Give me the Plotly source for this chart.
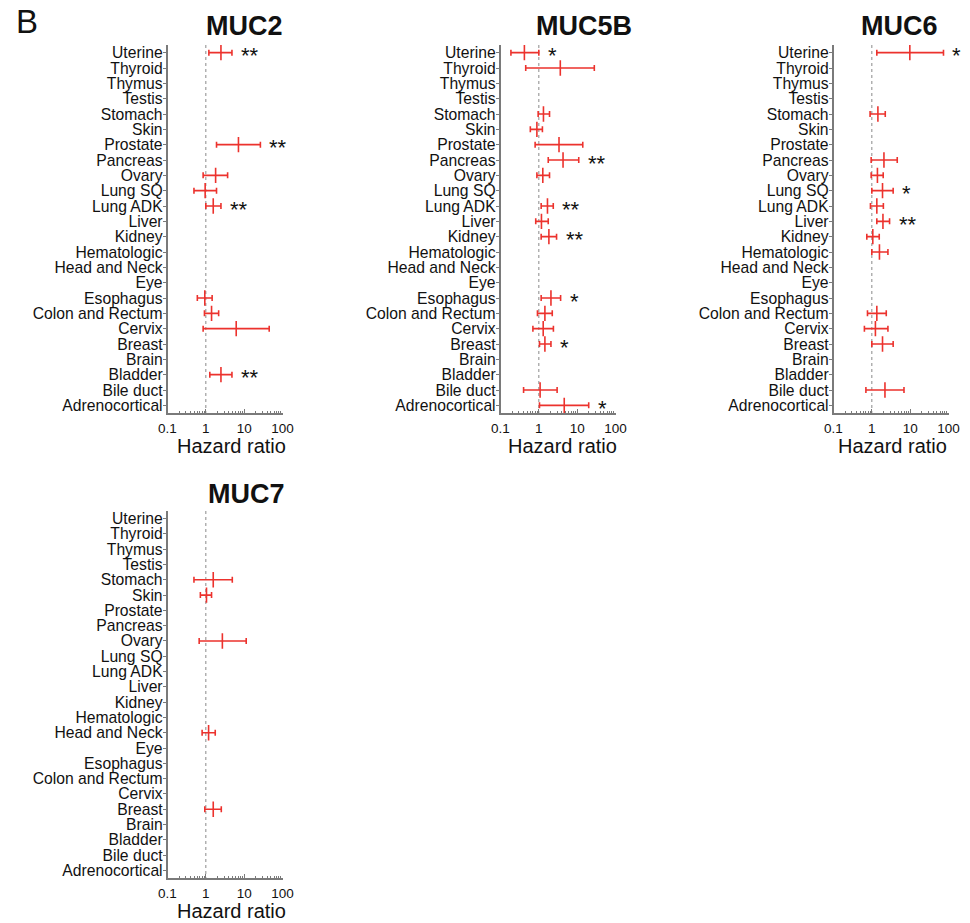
import math
import plotly.graph_objects as go

categories = ["Uterine", "Thyroid", "Thymus", "Testis", "Stomach", "Skin", "Prostate",
              "Pancreas", "Ovary", "Lung SQ", "Lung ADK", "Liver", "Kidney", "Hematologic",
              "Head and Neck", "Eye", "Esophagus", "Colon and Rectum", "Cervix", "Breast",
              "Brain", "Bladder", "Bile duct", "Adrenocortical"]

x_ticks = [0.1, 1, 10, 100]
x_ticklabels = ["0.1", "1", "10", "100"]
x_minor_ticks = [0.2, 0.3, 0.4, 0.5, 0.6, 0.7, 0.8, 0.9,
                 2, 3, 4, 5, 6, 7, 8, 9,
                 20, 30, 40, 50, 60, 70, 80, 90]

# MUC2
muc2_cat = ["Uterine", "Prostate", "Ovary", "Lung SQ", "Lung ADK", "Esophagus",
            "Colon and Rectum", "Cervix", "Bladder"]
muc2_hr = [2.48, 7.1, 1.8, 0.96, 1.56, 0.94, 1.41, 6.2, 2.48]
muc2_lo = [1.2, 1.9, 0.85, 0.49, 1.0, 0.6, 0.92, 0.85, 1.27]
muc2_hi = [4.8, 26.5, 3.7, 1.9, 2.48, 1.46, 2.16, 45, 4.8]
muc2_sig = ["**", "**", "", "", "**", "", "", "", "**"]

# MUC5B
muc5b_cat = ["Uterine", "Thyroid", "Stomach", "Skin", "Prostate", "Pancreas", "Ovary",
             "Lung ADK", "Liver", "Kidney", "Esophagus", "Colon and Rectum", "Cervix",
             "Breast", "Bile duct", "Adrenocortical"]
muc5b_hr = [0.42, 3.63, 1.32, 0.89, 3.36, 4.28, 1.27, 1.68, 1.17, 1.83, 2.07, 1.44, 1.3, 1.44, 1.08, 4.6]
muc5b_lo = [0.187, 0.455, 0.96, 0.6, 0.8, 1.76, 0.89, 1.15, 0.83, 1.15, 1.15, 0.92, 0.7, 1.04, 0.4, 1.04]
muc5b_hi = [1.0, 28, 1.9, 1.24, 14, 11, 1.9, 2.38, 1.76, 2.9, 3.7, 2.24, 2.4, 2.07, 3.0, 20]
muc5b_sig = ["*", "", "", "", "", "**", "", "**", "", "**", "*", "", "", "*", "", "*"]

# MUC6
muc6_cat = ["Uterine", "Stomach", "Pancreas", "Ovary", "Lung SQ", "Lung ADK", "Liver",
            "Kidney", "Hematologic", "Colon and Rectum", "Cervix", "Breast", "Bile duct"]
muc6_hr = [9.8, 1.44, 2.07, 1.4, 1.9, 1.35, 1.95, 1.06, 1.58, 1.35, 1.24, 1.9, 2.2]
muc6_lo = [1.35, 0.9, 0.96, 0.96, 1.0, 0.92, 1.35, 0.74, 1.0, 0.77, 0.64, 1.0, 0.7]
muc6_hi = [74, 2.24, 4.6, 1.98, 3.6, 2.0, 2.9, 1.56, 2.63, 2.38, 2.63, 3.6, 6.9]
muc6_sig = ["*", "", "", "", "*", "", "**", "", "", "", "", "", ""]

# MUC7
muc7_cat = ["Stomach", "Skin", "Ovary", "Head and Neck", "Breast"]
muc7_hr = [1.56, 1.04, 2.7, 1.18, 1.56]
muc7_lo = [0.49, 0.72, 0.67, 0.8, 0.94]
muc7_hi = [4.9, 1.41, 11.3, 1.76, 2.53]
muc7_sig = ["", "", "", "", ""]

W, H = 970, 923
RED = "rgb(236,50,45)"
AXC = "#7a7a7a"
FONT = "Liberation Sans, Arial, Helvetica, sans-serif"

panels = [
    ("MUC2", (muc2_cat, muc2_hr, muc2_lo, muc2_hi, muc2_sig), (167.5, 282.5), (45, 413), 244, 26, 231, 446),
    ("MUC5B", (muc5b_cat, muc5b_hr, muc5b_lo, muc5b_hi, muc5b_sig), (500.5, 615.5), (45, 413), 584, 26, 562, 446),
    ("MUC6", (muc6_cat, muc6_hr, muc6_lo, muc6_hi, muc6_sig), (833.5, 948.5), (45, 413), 899, 26, 892, 446),
    ("MUC7", (muc7_cat, muc7_hr, muc7_lo, muc7_hi, muc7_sig), (167.5, 282.5), (511, 878), 247, 494, 231, 911),
]

fig = go.Figure()
annotations = []
n = len(categories)

for i, (name, data, (xl, xr), (yt, yb), tx, ty, lx, ly) in enumerate(panels):
    cat, hr, lo, hi, sig = data
    k = "" if i == 0 else str(i + 1)
    xa, ya = "x" + k, "y" + k
    ypos = [categories.index(c) for c in cat]
    fig.add_trace(go.Scatter(x=[1, 1], y=[-0.5, n - 0.5], mode="lines",
                             line=dict(color="#8a8a8a", width=1, dash="dot"),
                             xaxis=xa, yaxis=ya, showlegend=False, hoverinfo="skip"))
    fig.add_trace(go.Scatter(
        x=hr, y=ypos, mode="markers",
        marker=dict(symbol="line-ns-open", size=11, color=RED, line=dict(color=RED, width=1.6)),
        error_x=dict(type="data", symmetric=False,
                     array=[h - c for h, c in zip(hi, hr)],
                     arrayminus=[c - l for c, l in zip(hr, lo)],
                     color=RED, thickness=1.6, width=3),
        xaxis=xa, yaxis=ya, showlegend=False))
    axis_x = dict(type="log", range=[-1, 2], domain=[xl / W, xr / W],
                  anchor=ya, tickvals=x_ticks, ticktext=x_ticklabels, automargin=False,
                  showline=True, linecolor=AXC, linewidth=1.5, ticks="inside", ticklen=4,
                  tickcolor=AXC, tickfont=dict(size=13.5, color="#111111", family=FONT),
                  minor=dict(ticks="inside", ticklen=2, tickcolor=AXC, tickvals=x_minor_ticks),
                  showgrid=False, zeroline=False, mirror=False, ticklabelstandoff=2)
    axis_y = dict(range=[n - 0.5, -0.5], domain=[1 - yb / H, 1 - yt / H], anchor=xa,
                  tickvals=list(range(n)), ticktext=categories, automargin=False,
                  showline=True, linecolor=AXC, linewidth=1.5, ticks="outside", ticklen=3,
                  tickcolor=AXC, tickfont=dict(size=15.7, color="#111111", family=FONT),
                  showgrid=False, zeroline=False, ticklabelstandoff=-3)
    fig.layout["xaxis" + k] = axis_x
    fig.layout["yaxis" + k] = axis_y
    annotations.append(dict(text="<b>" + name + "</b>", x=tx / W, y=1 - ty / H,
                            xref="paper", yref="paper", showarrow=False,
                            font=dict(size=27, family=FONT, color="#111111"),
                            xanchor="center", yanchor="middle"))
    annotations.append(dict(text="Hazard ratio", x=lx / W, y=1 - ly / H,
                            xref="paper", yref="paper", showarrow=False,
                            font=dict(size=20, family=FONT, color="#111111"),
                            xanchor="center", yanchor="middle"))
    for c, h, s in zip(cat, hi, sig):
        if s:
            annotations.append(dict(text=s, x=math.log10(h), y=categories.index(c),
                                    xref=xa, yref=ya, showarrow=False, xanchor="left",
                                    yanchor="middle", xshift=7, yshift=-3,
                                    font=dict(size=22, family=FONT, color="#111111")))

annotations.append(dict(text="B", x=14 / W, y=1 - 21 / H, xref="paper", yref="paper",
                        showarrow=False, xanchor="left", yanchor="middle",
                        font=dict(size=33, family=FONT, color="#111111")))

fig.update_layout(width=W, height=H, autosize=False,
                  margin=dict(l=0, r=0, t=0, b=0, pad=0, autoexpand=False),
                  paper_bgcolor="white", plot_bgcolor="white",
                  annotations=annotations, font=dict(family=FONT))

fig.write_html("out.html", config={"displayModeBar": False, "responsive": False},
               post_script="document.body.style.margin='0';document.body.style.overflow='hidden';")
